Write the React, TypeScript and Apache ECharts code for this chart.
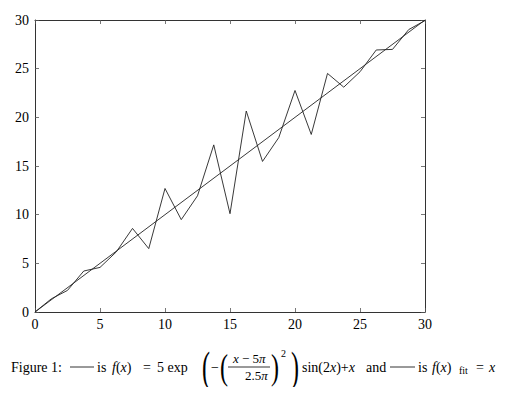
import React, { useEffect, useRef } from "react";
import * as echarts from "echarts";

const xSamples = [0, 1.25, 2.5, 3.75, 5, 6.25, 7.5, 8.75, 10, 11.25, 12.5, 13.75, 15, 16.25, 17.5, 18.75, 20, 21.25, 22.5, 23.75, 25, 26.25, 27.5, 28.75, 30];
const fValues = [0, 1.35, 2.22, 4.21, 4.58, 6.17, 8.59, 6.51, 12.69, 9.49, 11.94, 17.17, 10.1, 20.65, 15.47, 17.92, 22.76, 18.24, 24.51, 23.1, 24.68, 26.92, 26.98, 29.02, 29.94];
const fitX = [0, 30];
const fitY = [0, 30];
const xTicks = [0, 5, 10, 15, 20, 25, 30];
const yTicks = [0, 5, 10, 15, 20, 25, 30];

const FONT = "'Liberation Serif', 'DejaVu Serif', serif";

export default function App() {
  const ref = useRef<HTMLDivElement>(null);
  useEffect(() => {
    if (!ref.current) return;
    const chart = echarts.init(ref.current, undefined, { renderer: "svg" });
    const mkAxisLine = () => ({ show: true, onZero: false, lineStyle: { color: "#333", width: 1 } });
    const mkTick = () => ({ show: true, inside: true, length: 4, lineStyle: { color: "#555", width: 0.8 } });
    const txt = (x: number, y: number, text: string, size = 14, extra: any = {}) => ({
      type: "text",
      x,
      y,
      silent: true,
      ...extra,
      style: {
        text,
        fontFamily: FONT,
        fontSize: size,
        fill: "#000",
        verticalAlign: "middle",
        align: "left",
        rich: {
          i: { fontStyle: "italic", fontSize: size, fontFamily: FONT, fill: "#000" },
          n: { fontSize: size, fontFamily: FONT, fill: "#000" },
        },
      },
    });
    const ln = (x1: number, x2: number, y: number) => ({
      type: "line",
      silent: true,
      shape: { x1, y1: y, x2, y2: y },
      style: { stroke: "#000", lineWidth: 0.8 },
    });
    const cy = 367;
    const paren = (x: number, ch: string, sy: number) =>
      txt(x, cy, ch, 24, { scaleY: sy });
    chart.setOption({
      animation: false,
      backgroundColor: "#fff",
      grid: { left: 35, top: 20, right: 82, bottom: 83, containLabel: false },
      xAxis: [
        {
          type: "value",
          min: 0,
          max: 30,
          interval: 5,
          position: "bottom",
          axisLine: mkAxisLine(),
          axisTick: mkTick(),
          splitLine: { show: false },
          axisLabel: {
            margin: 5,
            color: "#000",
            fontFamily: FONT,
            fontSize: 14,
            formatter: (v: number) => (xTicks.includes(v) ? String(v) : ""),
          },
        },
        {
          type: "value",
          min: 0,
          max: 30,
          interval: 5,
          position: "top",
          axisLine: mkAxisLine(),
          axisTick: mkTick(),
          splitLine: { show: false },
          axisLabel: { show: false },
        },
      ],
      yAxis: [
        {
          type: "value",
          min: 0,
          max: 30,
          interval: 5,
          position: "left",
          axisLine: mkAxisLine(),
          axisTick: mkTick(),
          splitLine: { show: false },
          axisLabel: {
            margin: 6,
            color: "#000",
            fontFamily: FONT,
            fontSize: 14,
            formatter: (v: number) => (yTicks.includes(v) ? String(v) : ""),
          },
        },
        {
          type: "value",
          min: 0,
          max: 30,
          interval: 5,
          position: "right",
          axisLine: mkAxisLine(),
          axisTick: mkTick(),
          splitLine: { show: false },
          axisLabel: { show: false },
        },
      ],
      series: [
        {
          type: "line",
          data: xSamples.map((x, i) => [x, fValues[i]]),
          symbol: "none",
          lineStyle: { color: "#222", width: 0.9 },
        },
        {
          type: "line",
          data: fitX.map((x, i) => [x, fitY[i]]),
          symbol: "none",
          lineStyle: { color: "#222", width: 0.9 },
        },
      ],
      graphic: [
        txt(11, cy, "Figure 1:"),
        ln(70, 94, cy),
        txt(97, cy, "is"),
        txt(112, cy, "{i|f}{n|(}{i|x}{n|)}"),
        txt(143, cy, "="),
        txt(157, cy, "5 exp"),
        paren(202, "(", 1.75),
        txt(211, cy, "−"),
        paren(220, "(", 1.45),
        txt(233, cy - 9, "{i|x}{n| − 5}{i|π}", 13),
        ln(228, 270, cy),
        txt(245, cy + 8, "{n|2.5}{i|π}", 13),
        paren(271, ")", 1.45),
        txt(281, cy - 14, "2", 10),
        paren(291, ")", 1.75),
        txt(302, cy, "{n|sin(2}{i|x}{n|)+}{i|x}"),
        txt(366, cy, "and"),
        ln(390, 415, cy),
        txt(418, cy, "is"),
        txt(432, cy, "{i|f}{n|(}{i|x}{n|)}"),
        txt(459, cy + 3, "fit", 10),
        txt(476, cy, "="),
        txt(489, cy, "{i|x}"),
      ],
    });
    return () => chart.dispose();
  }, []);
  return <div ref={ref} style={{ width: 507, height: 395, margin: -8 }} />;
}
